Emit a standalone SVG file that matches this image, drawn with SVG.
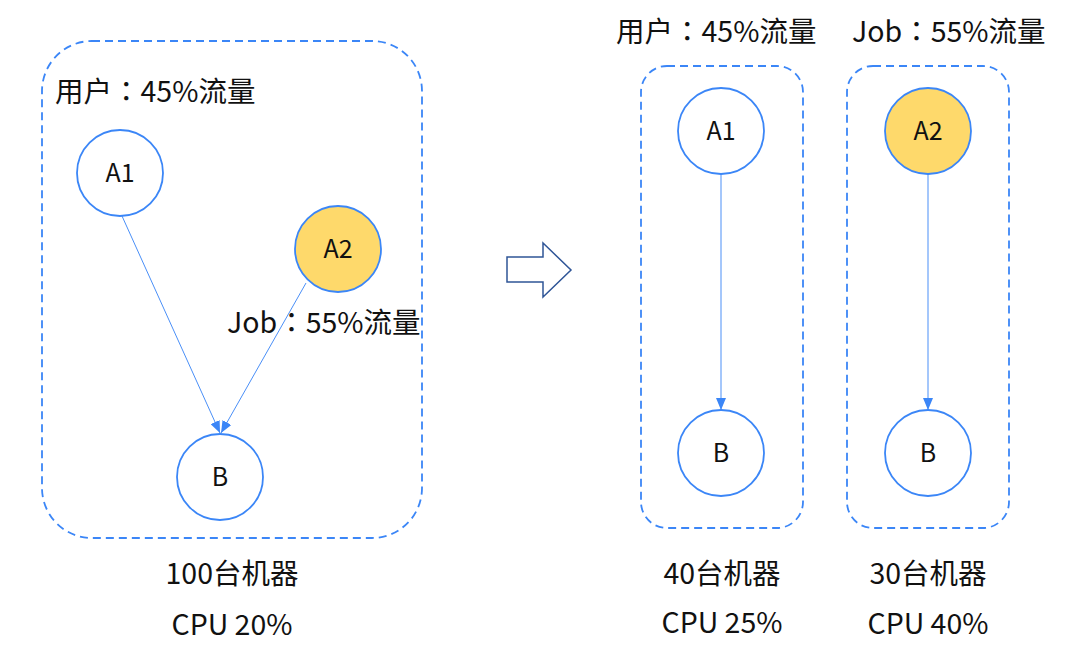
<svg xmlns="http://www.w3.org/2000/svg" width="1080" height="657" viewBox="0 0 1080 657">
<style>
.t{font-family:"Noto Sans CJK SC","Noto Sans",sans-serif;fill:#111;}
.lbl{font-size:28.5px;}
.col{font-family:"Noto Sans CJK TC","Noto Sans CJK SC",sans-serif;}
.nl{font-size:25px;text-anchor:middle;}
.c{text-anchor:middle;}
.box{fill:none;stroke:#3b86f7;stroke-width:1.8;stroke-dasharray:8 5;}
.node{fill:#fff;stroke:#3b86f7;stroke-width:1.8;}
.yel{fill:#fed96b;}
.edge{fill:none;stroke:#4a8ff7;stroke-width:1;}
</style>
<defs>
<marker id="ah" markerWidth="12" markerHeight="10" refX="12" refY="5" orient="auto" markerUnits="userSpaceOnUse">
<path d="M0,0 L12,5 L0,10 Z" fill="#3b86f7"/>
</marker>
</defs>
<rect width="1080" height="657" fill="#fff"/>
<g id="left-group">
<rect class="box" x="42" y="41" width="380" height="497" rx="50"/>
<text class="t lbl" x="55" y="102">用户<tspan class="col">：</tspan>45%流量</text>
<text class="t lbl" x="227" y="333">Job<tspan class="col">：</tspan>55%流量</text>
<text class="t lbl c" x="232" y="584">100台机器</text>
<text class="t lbl c" x="232" y="635">CPU 20%</text>
</g>
<g id="mid-group">
<rect class="box" x="641" y="66" width="162" height="462" rx="26"/>
<text class="t lbl" x="616" y="42">用户<tspan class="col">：</tspan>45%流量</text>
<text class="t lbl c" x="722" y="584">40台机器</text>
<text class="t lbl c" x="722" y="633">CPU 25%</text>
</g>
<g id="right-group">
<rect class="box" x="847" y="66" width="162" height="462" rx="26"/>
<text class="t lbl" x="852" y="42">Job<tspan class="col">：</tspan>55%流量</text>
<text class="t lbl c" x="928" y="584">30台机器</text>
<text class="t lbl c" x="928" y="634">CPU 40%</text>
</g>
<g id="connectors">
<line class="edge" x1="122" y1="216" x2="220" y2="433" marker-end="url(#ah)"/>
<line class="edge" x1="306" y1="283" x2="221" y2="433" marker-end="url(#ah)"/>
<line class="edge" x1="721" y1="174" x2="721" y2="410" marker-end="url(#ah)"/>
<line class="edge" x1="928" y1="174" x2="928" y2="410" marker-end="url(#ah)"/>
</g>
<g id="arrow">
<path d="M507,257 L543,257 L543,243 L571,270 L543,297 L543,282 L507,282 Z" fill="#fff" stroke="#2f5597" stroke-width="1.5"/>
</g>
<g id="L-A1"><circle class="node" cx="120" cy="173" r="43"/><text class="t nl" x="120" y="182">A1</text></g>
<g id="L-A2"><circle class="node yel" cx="338" cy="249" r="43"/><text class="t nl" x="338" y="258">A2</text></g>
<g id="L-B"><circle class="node" cx="220" cy="477" r="43"/><text class="t nl" x="220" y="486">B</text></g>
<g id="M-A1"><circle class="node" cx="721" cy="131" r="43"/><text class="t nl" x="721" y="140">A1</text></g>
<g id="M-B"><circle class="node" cx="721" cy="453" r="43"/><text class="t nl" x="721" y="462">B</text></g>
<g id="R-A2"><circle class="node yel" cx="928" cy="131" r="43"/><text class="t nl" x="928" y="140">A2</text></g>
<g id="R-B"><circle class="node" cx="928" cy="453" r="43"/><text class="t nl" x="928" y="462">B</text></g>
</svg>
